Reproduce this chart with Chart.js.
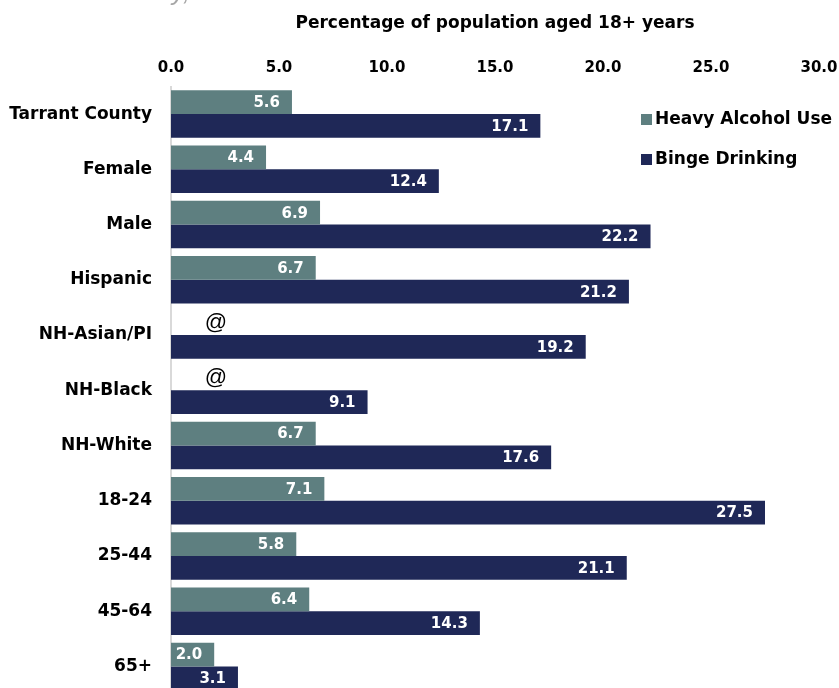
<!DOCTYPE html>
<html>
<head>
<meta charset="utf-8">
<script src="https://cdn.jsdelivr.net/npm/chart.js@4.4.1/dist/chart.umd.min.js"></script>
<style>
  html, body { margin: 0; padding: 0; background: #fff; overflow: hidden; }
  #wrap { position: relative; width: 839px; height: 700px; }
</style>
</head>
<body>
<div id="wrap"><canvas id="alcoholChart"></canvas></div>
<script>
const groups = ['Tarrant County', 'Female', 'Male', 'Hispanic', 'NH-Asian/PI', 'NH-Black',
                'NH-White', '18-24', '25-44', '45-64', '65+'];
// null = estimate suppressed, shown as "@"
const heavyUse = [5.6, 4.4, 6.9, 6.7, null, null, 6.7, 7.1, 5.8, 6.4, 2.0];
const bingeDrinking = [17.1, 12.4, 22.2, 21.2, 19.2, 9.1, 17.6, 27.5, 21.1, 14.3, 3.1];
const axisTicks = [0, 5, 10, 15, 20, 25, 30];

const TEAL = '#5e7f80';
const NAVY = '#1f2857';
const FONT = '"DejaVu Sans", Verdana, sans-serif';

const barLabels = {
    id: 'barLabels',
    afterDatasetsDraw(chart) {
        const ctx = chart.ctx;
        const xScale = chart.scales.x;
        ctx.save();
        ctx.textBaseline = 'middle';
        chart.data.datasets.forEach((ds, di) => {
            const meta = chart.getDatasetMeta(di);
            meta.data.forEach((bar, i) => {
                const v = ds.data[i];
                if (v === null) {
                    const other = chart.getDatasetMeta(1).data[i];
                    ctx.fillStyle = '#000';
                    ctx.font = '22px "Liberation Sans", Arial, sans-serif';
                    ctx.textAlign = 'center';
                    ctx.fillText('@', xScale.left + 45, other.y - other.height);
                    return;
                }
                ctx.fillStyle = '#fff';
                ctx.font = 'bold 15px ' + FONT;
                ctx.textAlign = 'right';
                ctx.fillText(v.toFixed(1), bar.x - 12, bar.y + 1);
            });
        });
        ctx.restore();
    },
    afterDraw(chart) {
        const ctx = chart.ctx;
        ctx.save();
        // legend, upper right
        const items = [['Heavy Alcohol Use', TEAL, 119], ['Binge Drinking', NAVY, 159]];
        ctx.font = 'bold 17px ' + FONT;
        ctx.textBaseline = 'middle';
        ctx.textAlign = 'left';
        items.forEach(([text, color, y]) => {
            ctx.fillStyle = color;
            ctx.fillRect(641, y - 5, 11, 11);
            ctx.fillStyle = '#000';
            ctx.fillText(text, 655, y + 1);
        });
        // page header running off the top edge
        ctx.fillStyle = '#a6a6a6';
        ctx.font = 'italic 26px "Liberation Sans", Arial, sans-serif';
        ctx.textBaseline = 'alphabetic';
        ctx.fillText('Tarrant County, 2019', 14, 0);
        ctx.restore();
    }
};

new Chart(document.getElementById('alcoholChart'), {
    type: 'bar',
    data: {
        labels: groups,
        datasets: [
            { label: 'Heavy Alcohol Use', data: heavyUse, backgroundColor: TEAL },
            { label: 'Binge Drinking', data: bingeDrinking, backgroundColor: NAVY }
        ]
    },
    options: {
        indexAxis: 'y',
        responsive: true,
        maintainAspectRatio: false,
        animation: false,
        layout: { padding: { left: 0, right: 20, top: 0, bottom: 6 } },
        datasets: { bar: { categoryPercentage: 0.86, barPercentage: 1.0 } },
        plugins: { legend: { display: false }, tooltip: { enabled: false } },
        scales: {
            x: {
                position: 'top',
                min: 0,
                max: 30,
                afterBuildTicks: (scale) => { scale.ticks = axisTicks.map(v => ({ value: v })); },
                afterFit: (scale) => {
                    scale.height = 86.5;
                    scale.paddingLeft = 0;
                    scale.paddingRight = 0;
                },
                grid: { display: false, drawTicks: false },
                border: { display: false },
                ticks: {
                    padding: 9,
                    color: '#000',
                    font: { family: FONT, size: 15, weight: 'bold' },
                    callback: (v) => Number(v).toFixed(1)
                },
                title: {
                    display: true,
                    text: 'Percentage of population aged 18+ years',
                    color: '#000',
                    font: { family: FONT, size: 17, weight: 'bold' },
                    padding: { top: 13, bottom: 0 }
                }
            },
            y: {
                afterFit: (scale) => {
                    scale.width = 171;
                    scale.paddingTop = 0;
                    scale.paddingBottom = 0;
                },
                grid: { display: false, drawTicks: false },
                border: { display: true, color: '#d9d9d9', width: 2 },
                ticks: {
                    padding: 19,
                    color: '#000',
                    font: { family: FONT, size: 17, weight: 'bold' }
                }
            }
        }
    },
    plugins: [barLabels]
});
</script>
</body>
</html>
